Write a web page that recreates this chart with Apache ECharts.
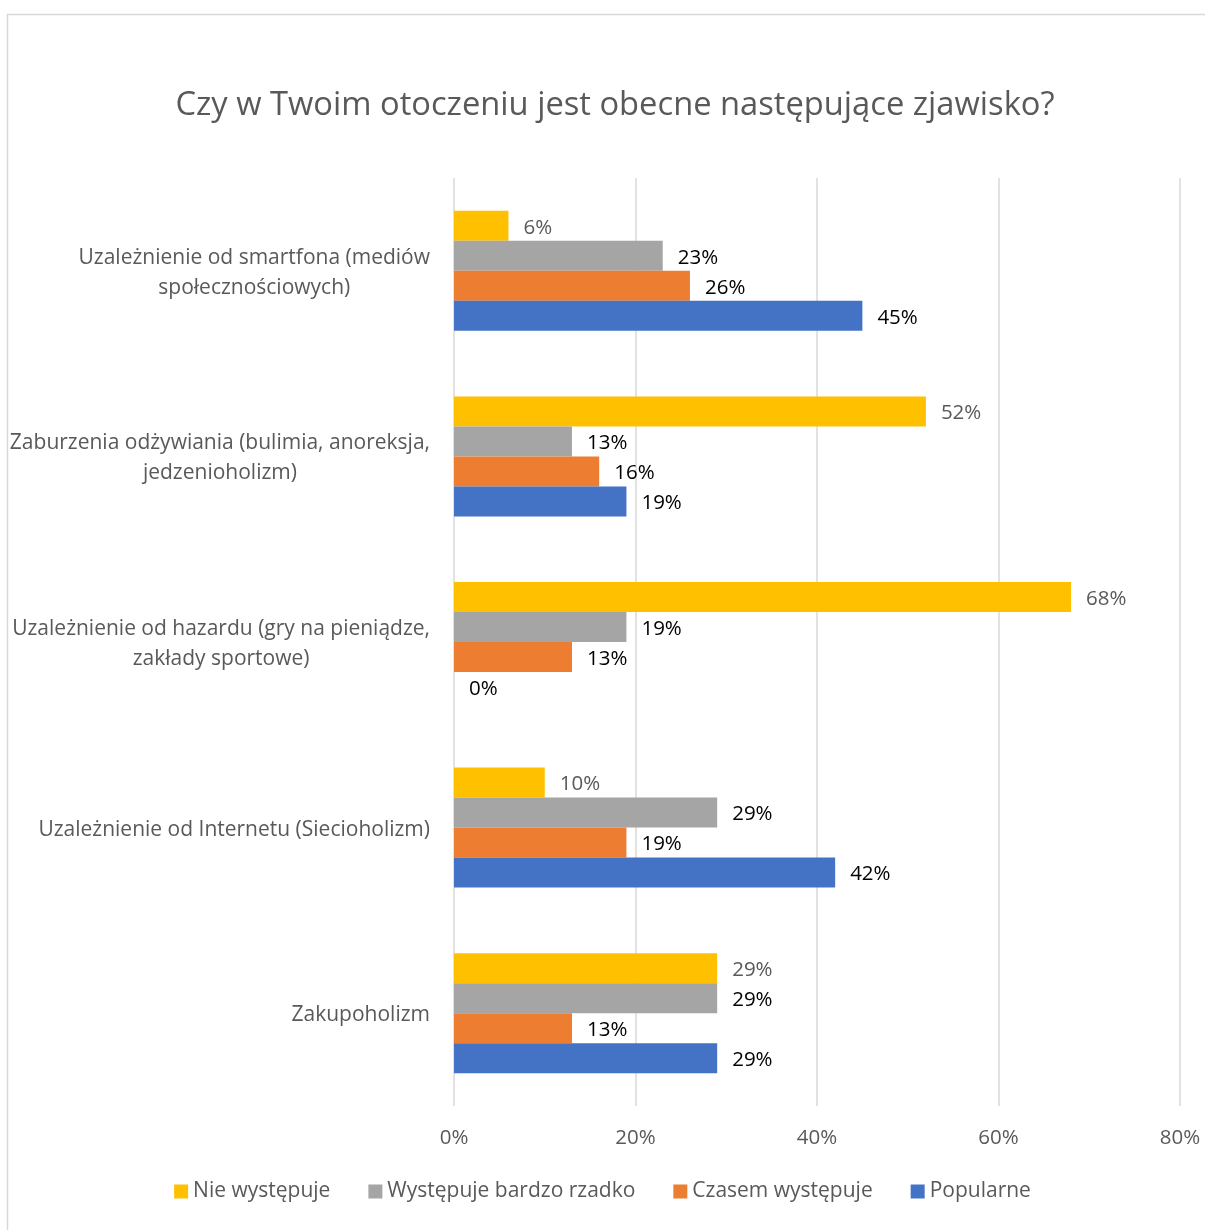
<!DOCTYPE html>
<html>
<head>
<meta charset="utf-8">
<script src="https://cdn.jsdelivr.net/npm/echarts@6/dist/echarts.min.js"></script>
<style>
  html, body { margin: 0; padding: 0; background: #fff; }
  #chart { width: 1205px; height: 1230px; }
</style>
</head>
<body>
<div id="chart"></div>
<script>
// dane
var categories = [
  'Uzależnienie od smartfona (mediów\nspołecznościowych)',
  'Zaburzenia odżywiania (bulimia, anoreksja,\njedzenioholizm)',
  'Uzależnienie od hazardu (gry na pieniądze,\nzakłady sportowe)',
  'Uzależnienie od Internetu (Siecioholizm)',
  'Zakupoholizm'
];
var seriesNames = ['Nie występuje', 'Występuje bardzo rzadko', 'Czasem występuje', 'Popularne'];
var nieWystepuje = [6, 52, 68, 10, 29];
var bardzoRzadko = [23, 13, 19, 29, 29];
var czasem = [26, 16, 13, 19, 13];
var popularne = [45, 19, 0, 42, 29];
var xTicks = [0, 20, 40, 60, 80];

var colors = ['#FFC000', '#A5A5A5', '#ED7D31', '#4472C4'];
var labelColors = ['#595959', '#000000', '#000000', '#000000'];
var font = '"Open Sans", "Noto Sans", sans-serif';

var myChart = echarts.init(document.getElementById('chart'));

function makeSeries(i, values) {
  return {
    name: seriesNames[i],
    type: 'bar',
    data: values,
    barWidth: 30,
    barGap: '0%',
    itemStyle: { color: colors[i] },
    label: {
      show: true,
      position: 'right',
      distance: 15,
      offset: [0, 2],
      formatter: '{c}%',
      color: labelColors[i],
      fontFamily: font,
      fontSize: 20.5
    },
    emphasis: { disabled: true }
  };
}

var option = {
  animation: false,
  backgroundColor: '#fff',
  title: {
    text: 'Czy w Twoim otoczeniu jest obecne następujące zjawisko?',
    left: 610,
    top: 84,
    textAlign: 'center',
    textStyle: { color: '#595959', fontFamily: font, fontSize: 32.7, fontWeight: 'normal' }
  },
  graphic: [{
    type: 'rect',
    shape: { x: 7.5, y: 14.5, width: 1400, height: 1400 },
    style: { fill: 'none', stroke: '#D9D9D9', lineWidth: 1.5 },
    silent: true
  }],
  legend: {
    bottom: 23,
    left: 'center',
    icon: 'rect',
    itemWidth: 14,
    itemHeight: 14,
    itemGap: 38,
    textStyle: { color: '#595959', fontFamily: font, fontSize: 21 },
    data: seriesNames
  },
  grid: { left: 454, right: 25, top: 178, bottom: 124, containLabel: false },
  xAxis: {
    type: 'value',
    min: xTicks[0],
    max: xTicks[xTicks.length - 1],
    interval: 20,
    axisLine: { show: false },
    axisTick: { show: false },
    splitLine: { show: true, lineStyle: { color: '#D9D9D9', width: 1.5 } },
    axisLabel: {
      formatter: '{value}%',
      color: '#595959',
      fontFamily: font,
      fontSize: 20.5,
      margin: 22
    }
  },
  yAxis: {
    type: 'category',
    inverse: true,
    data: categories,
    axisLine: { show: false },
    axisTick: { show: false },
    axisLabel: {
      align: 'right',
      margin: 24,
      formatter: function (v) {
        return v.split('\n').map(function (s) { return '{c|' + s + '}'; }).join('\n');
      },
      rich: {
        c: { align: 'center', color: '#595959', fontFamily: font, fontSize: 21, lineHeight: 30, padding: [4, 0, 0, 0] }
      }
    }
  },
  series: [
    makeSeries(0, nieWystepuje),
    makeSeries(1, bardzoRzadko),
    makeSeries(2, czasem),
    makeSeries(3, popularne)
  ]
};
myChart.setOption(option);
</script>
</body>
</html>
